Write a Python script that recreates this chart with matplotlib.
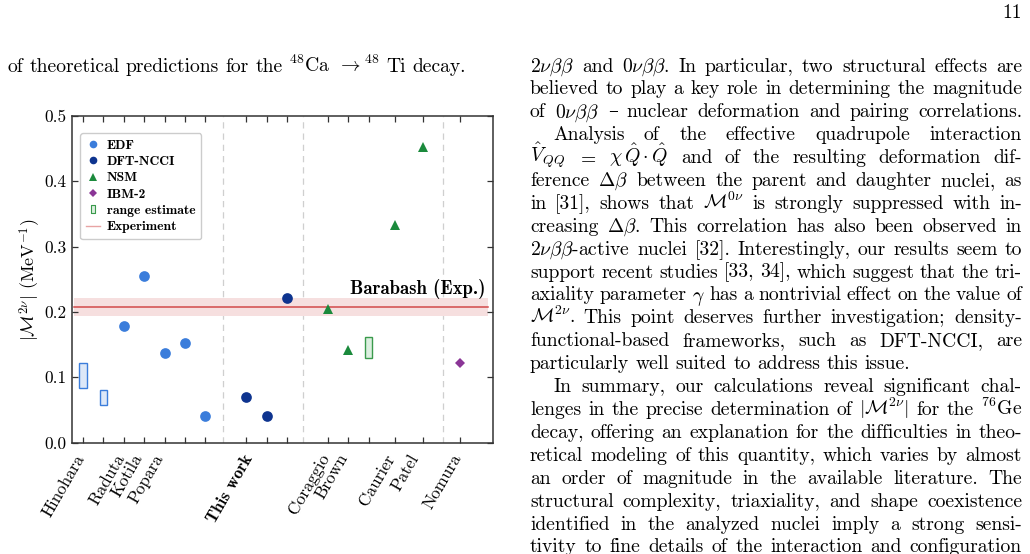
import matplotlib
matplotlib.use('Agg')
import matplotlib.pyplot as plt
from matplotlib.lines import Line2D

plt.rcParams['font.family'] = ['cmr10', 'DejaVu Serif']
plt.rcParams['mathtext.fontset'] = 'cm'
plt.rcParams['axes.formatter.use_mathtext'] = True

# --- chart data ---
edf_x = [2, 3, 4, 5, 6]
edf_y = [0.178, 0.255, 0.137, 0.152, 0.040]
edf_rng_x = [0, 1]
edf_rng_lo = [0.083, 0.057]
edf_rng_hi = [0.121, 0.080]
ncci_x = [8, 9, 10]
ncci_y = [0.069, 0.040, 0.221]
nsm_x = [12, 13, 15.3, 16.65]
nsm_y = [0.205, 0.142, 0.333, 0.453]
nsm_rng_x = [14]
nsm_rng_lo = [0.130]
nsm_rng_hi = [0.161]
ibm_x = [18.5]
ibm_y = [0.121]
exp_val = 0.208
exp_err = 0.014
group_sep = [6.86, 10.78, 17.65]

label_pos = [-0.1, 1.86, 2.75, 3.77, 8.15, 11.91, 12.79, 15.1, 16.27, 18.38]
label_txt = ['Hinohara', 'Raduta', 'Kotila', 'Popara', 'This work',
             'Coraggio', 'Brown', 'Caurier', 'Patel', 'Nomura']

# --- page text ---
left_line = r'of theoretical predictions for the $^{48}$Ca $\rightarrow^{48}$ Ti decay.'
right_lines = [
    r'$2\nu\beta\beta$ and $0\nu\beta\beta$. In particular, two structural effects are',
    r'believed to play a key role in determining the magnitude',
    r'of $0\nu\beta\beta$ – nuclear deformation and pairing correlations.',
    r'Analysis of the effective quadrupole interaction',
    r'$\hat{V}_{QQ}$ $=$ $\chi\,\hat{Q}\cdot\hat{Q}$ and of the resulting deformation dif-',
    r'ference $\Delta\beta$ between the parent and daughter nuclei, as',
    r'in [31], shows that $\mathcal{M}^{0\nu}$ is strongly suppressed with in-',
    r'creasing $\Delta\beta$. This correlation has also been observed in',
    r'$2\nu\beta\beta$-active nuclei [32]. Interestingly, our results seem to',
    r'support recent studies [33, 34], which suggest that the tri-',
    r'axiality parameter $\gamma$ has a nontrivial effect on the value of',
    r'$\mathcal{M}^{2\nu}$. This point deserves further investigation; density-',
    r'functional-based frameworks, such as DFT-NCCI, are',
    r'particularly well suited to address this issue.',
    r'In summary, our calculations reveal significant chal-',
    r'lenges in the precise determination of $|\mathcal{M}^{2\nu}|$ for the $^{76}$Ge',
    r'decay, offering an explanation for the difficulties in theo-',
    r'retical modeling of this quantity, which varies by almost',
    r'an order of magnitude in the available literature. The',
    r'structural complexity, triaxiality, and shape coexistence',
    r'identified in the analyzed nuclei imply a strong sensi-',
    r'tivity to fine details of the interaction and configuration',
]
indented = [3, 14]
ragged = [13]

c_edf = '#3b7ddb'
c_ncci = '#0e348f'
c_nsm = '#1b8a3c'
c_ibm = '#8a3596'
c_exp = '#d24a4a'

W, H = 1030, 554
fig = plt.figure(figsize=(W / 100, H / 100), dpi=100)
renderer = fig.canvas.get_renderer()


def px(x, y):
    return x / W, 1 - y / H


def put_line(s, x0, x1, yb, size=14.1, justify=True):
    words = s.split(' ')
    items = [fig.text(*px(x0, yb), w, fontsize=size, va='baseline', ha='left') for w in words]
    widths = [t.get_window_extent(renderer).width for t in items]
    gap = size * 100 / 72 * 0.333
    if justify and len(items) > 1:
        gap = (x1 - x0 - sum(widths)) / (len(items) - 1)
    x = x0
    for t, w in zip(items, widths):
        t.set_position(px(x, yb))
        x += w + gap


fig.text(*px(1022, 18), '11', fontsize=14.1, ha='right', va='baseline')
put_line(left_line, 7, 462, 71.5, justify=False)
for i, s in enumerate(right_lines):
    x0 = 553 if i in indented else 530
    put_line(s, x0, 1022, 71.5 + 22.9 * i, justify=i not in ragged)

# --- chart ---
ax = fig.add_axes([72 / W, 1 - 442.5 / H, (492.5 - 72) / W, (442.5 - 116) / H])

ax.axhspan(exp_val - exp_err, exp_val + exp_err, xmin=0.005, xmax=0.99,
           color='#f6dfdf', lw=0, zorder=1)
ax.axhline(exp_val, xmin=0.005, xmax=0.99, color=c_exp, lw=1.1, zorder=2)
for xs in group_sep:
    ax.axvline(xs, color='#cfcfcf', lw=0.9, ls=(0, (5, 4)), zorder=0)

ax.bar(edf_rng_x, [h - l for l, h in zip(edf_rng_lo, edf_rng_hi)], bottom=edf_rng_lo,
       width=0.35, facecolor='#dde8f8', edgecolor=c_edf, lw=1.0, zorder=3)
ax.bar(nsm_rng_x, [h - l for l, h in zip(nsm_rng_lo, nsm_rng_hi)], bottom=nsm_rng_lo,
       width=0.37, facecolor='#dcefe0', edgecolor='#3a9a4c', lw=1.0, zorder=3)
ax.plot(edf_x, edf_y, 'o', color=c_edf, ms=7.7, mew=0, zorder=4)
ax.plot(ncci_x, ncci_y, 'o', color=c_ncci, ms=7.7, mew=0, zorder=4)
ax.plot(nsm_x, nsm_y, '^', color=c_nsm, ms=7.5, mew=0, zorder=4)
ax.plot(ibm_x, ibm_y, 'D', color=c_ibm, ms=5.6, mew=0, zorder=4)

ax.text(19.75, exp_val + 0.012, 'Barabash (Exp.)', fontfamily='cmb10', fontsize=13.5,
        ha='right', va='bottom')

ax.set_xlim(-0.54, 20.07)
ax.set_ylim(0, 0.5)
ax.set_yticks([0, 0.1, 0.2, 0.3, 0.4, 0.5])
ax.set_yticklabels(['0.0', '0.1', '0.2', '0.3', '0.4', '0.5'], fontsize=12.5)

all_x = sorted(edf_rng_x + edf_x + ncci_x + nsm_x + nsm_rng_x + ibm_x)
ax.set_xticks(all_x, minor=True)
ax.set_xticks(label_pos)
ax.set_xticklabels(label_txt, rotation=60, ha='right', va='center',
                   rotation_mode='anchor', fontsize=12.4)
for t in ax.get_xticklabels():
    if t.get_text() == 'This work':
        t.set_fontfamily('cmb10')
ax.tick_params(axis='x', which='major', length=0, pad=9.2)
ax.tick_params(axis='x', which='minor', direction='in', length=4, width=0.9,
               top=True, color='#333333')
ax.tick_params(axis='y', which='major', direction='in', length=4, width=0.9,
               right=True, color='#333333', pad=4)
for sp in ax.spines.values():
    sp.set_color('#333333')
    sp.set_linewidth(1.1)

ax.set_ylabel(r'$|\mathcal{M}^{2\nu}|$ (MeV$^{-1}$)', fontsize=13, labelpad=1)

rect_marker = [(-0.5, -1), (0.5, -1), (0.5, 1), (-0.5, 1), (-0.5, -1)]
handles = [
    Line2D([], [], marker='o', ls='none', color=c_edf, ms=5.5, mew=0),
    Line2D([], [], marker='o', ls='none', color=c_ncci, ms=5.5, mew=0),
    Line2D([], [], marker='^', ls='none', color=c_nsm, ms=5.5, mew=0),
    Line2D([], [], marker='D', ls='none', color=c_ibm, ms=4, mew=0),
    Line2D([], [], marker=rect_marker, ls='none', mfc='#dcefe0', mec='#3a9a4c', ms=5.5, mew=0.8),
    Line2D([], [], color=c_exp, alpha=0.5, lw=1),
]
labels = ['EDF', 'DFT-NCCI', 'NSM', 'IBM-2', 'range estimate', 'Experiment']
ax.legend(handles, labels, loc='upper left', bbox_to_anchor=(0.019, 0.948),
          borderaxespad=0, prop=dict(family='cmb10', size=9.8), handlelength=1.0,
          handletextpad=0.5, labelspacing=0.28, borderpad=0.45, fancybox=True,
          edgecolor='#cccccc', framealpha=1)

fig.savefig('out.png', dpi=100)
